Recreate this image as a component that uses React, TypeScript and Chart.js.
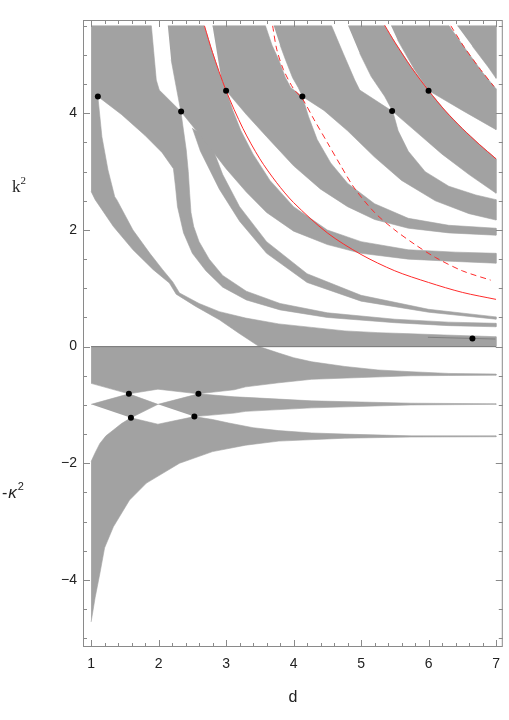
import React, { useEffect, useRef } from 'react';
import { Chart, registerables } from 'chart.js';
Chart.register(...registerables);

type P = [number, number];

const X_TICKS = [1, 2, 3, 4, 5, 6, 7];
const Y_TICKS = [-4, -2, 0, 2, 4];

// ---- negative-energy bands (d, -kappa^2)
const N1: P[] = [[1.0,0],[3.49,0],[3.78,-0.11],[4.0,-0.19],[4.27,-0.26],[4.76,-0.34],[5.25,-0.4],[5.74,-0.43],[6.3,-0.46],[7.0,-0.47],
  [7.0,-0.49],[6.3,-0.495],[5.74,-0.5],[5.0,-0.53],[4.27,-0.56],[3.78,-0.62],[3.29,-0.69],[3.12,-0.74],[2.85,-0.775],[2.59,-0.81],[1.99,-0.73],[1.56,-0.81],[1.0,-0.63]];
const N2a: P[] = [[1.0,-0.99],[1.56,-0.81],[1.99,-0.99],[1.59,-1.22]];
const N2b: P[] = [[1.99,-0.99],[2.59,-0.81],[3.12,-0.86],[3.29,-0.87],[4.27,-0.93],[5.74,-0.97],[7.0,-0.98],
  [7.0,-0.99],[5.74,-1.0],[4.27,-1.05],[3.29,-1.11],[3.12,-1.14],[2.53,-1.2]];
const N3: P[] = [[1.0,-1.97],[1.06,-1.82],[1.13,-1.66],[1.22,-1.53],[1.33,-1.43],[1.45,-1.32],[1.59,-1.22],[1.99,-1.33],[2.53,-1.2],[2.8,-1.25],[3.04,-1.31],[3.4,-1.39],[3.78,-1.44],[4.27,-1.48],[4.76,-1.5],[5.74,-1.53],[7.0,-1.53],
  [7.0,-1.545],[5.74,-1.55],[4.76,-1.57],[3.78,-1.62],[3.29,-1.69],[2.8,-1.8],[2.31,-2.0],[1.82,-2.34],[1.57,-2.63],[1.33,-3.09],[1.2,-3.45],[1.13,-3.89],[1.06,-4.3],[1.0,-4.72]];

// ---- positive-energy bands (d, k^2)
const PG: P[] = [[1.0,5.5],[1.893,5.5],[1.94,4.9],[1.966,4.57],[2.01,4.4],[2.33,4.03],[2.37,3.7],[2.41,3.37],[2.44,3.0],[2.46,2.63],[2.48,2.3],
  [2.52,2.06],[2.6,1.8],[2.75,1.5],[2.95,1.22],[3.3,0.95],[3.8,0.74],[4.5,0.58],[5.5,0.47],[6.3,0.42],[7.0,0.4],
  [7.0,0.34],[6.3,0.36],[5.5,0.41],[4.5,0.5],[3.8,0.63],[3.3,0.8],[2.95,1.02],[2.7,1.3],[2.5,1.6],[2.37,1.95],[2.28,2.4],[2.25,2.75],[2.22,3.05],[2.05,3.33],[1.8,3.62],[1.45,3.98],[1.1,4.29],
  [1.16,3.6],[1.25,3.03],[1.35,2.57],[1.38,2.52],[1.62,2.0],[1.87,1.6],[2.06,1.32],[2.21,1.11],[2.31,0.92],[2.6,0.74],[2.9,0.6],[3.29,0.49],[3.78,0.39],[4.27,0.33],[4.76,0.27],[5.25,0.24],[5.74,0.22],[6.23,0.2],[7.0,0.17],
  [7.0,0],[3.49,0],[3.19,0.23],[2.9,0.46],[2.55,0.69],[2.26,0.9],[2.16,1.09],[1.92,1.32],[1.62,1.66],[1.33,2.06],[1.06,2.52],[1.0,2.66]];
const PG2: P[] = [[2.137,5.5],[2.676,5.5],[2.8,5.04],[2.9,4.69],[3.0,4.39],[3.1,4.05],[3.22,3.7],[3.4,3.3],[3.65,2.85],[4.0,2.4],[4.5,2.0],[5.0,1.8],[5.7,1.66],[6.4,1.62],[7.0,1.6],
  [7.0,1.43],[6.4,1.46],[5.7,1.5],[5.0,1.6],[4.5,1.75],[4.0,1.98],[3.6,2.3],[3.3,2.65],[3.0,3.05],[2.7,3.5],[2.33,4.03],[2.26,4.46],[2.186,4.92]];
const PG3: P[] = [[2.799,5.5],[3.584,5.5],[3.68,5.17],[3.78,4.92],[3.88,4.61],[3.96,4.44],[4.13,4.29],[4.22,3.95],[4.35,3.55],[4.55,3.15],[4.8,2.8],[5.2,2.45],[5.7,2.2],[6.3,2.08],[7.0,2.03],
  [7.0,1.91],[6.3,1.95],[5.7,2.03],[5.2,2.18],[4.8,2.4],[4.4,2.7],[4.0,3.1],[3.6,3.6],[3.3,3.98],[3.0,4.39],[2.93,4.59]];
const PG4: P[] = [[3.706,5.5],[4.563,5.5],[4.735,5.03],[4.907,4.57],[4.98,4.4],[5.47,4.03],[5.55,3.7],[5.7,3.35],[5.95,3.0],[6.3,2.75],[6.7,2.6],[7.0,2.52],
  [7.0,2.17],[6.6,2.28],[6.1,2.5],[5.6,2.85],[5.2,3.25],[4.8,3.7],[4.45,4.05],[4.13,4.29],[4.07,4.44],[3.985,4.61],[3.88,4.92],[3.8,5.17]];
const PG5: P[] = [[4.809,5.5],[5.349,5.5],[5.5,5.22],[5.75,4.78],[6.0,4.39],[6.25,4.04],[6.5,3.74],[6.75,3.47],[7.0,3.22],
  [7.0,2.63],[6.6,2.95],[6.2,3.3],[5.8,3.7],[5.47,4.03],[5.35,4.29],[5.15,4.63],[4.98,5.03]];
const PG6: P[] = [[5.445,5.5],[6.304,5.5],[6.55,5.1],[6.8,4.7],[7.0,4.42],[7.0,3.72],[6.5,4.05],[6.0,4.39],[5.79,4.75],[5.54,5.26]];
const PG7: P[] = [[6.426,5.5],[7.0,5.5],[7.0,4.6],[6.88,4.8],[6.65,5.15]];
const L3: P[] = [[2.75,3.55],[2.95,2.95],[3.2,2.4],[3.6,1.8],[4.2,1.25],[5.0,0.88],[6.0,0.64],[7.0,0.51],
  [7.0,0.47],[6.0,0.59],[5.0,0.78],[4.2,1.1],[3.6,1.6],[3.2,2.15],[2.9,2.7],[2.62,3.35],[2.5,3.75]];

const BANDS: P[][] = [N1, N2a, N2b, N3, PG, PG2, PG3, PG4, PG5, PG6, PG7, L3];

// ---- red curves
const RED1: P[] = [[2.68,5.5],[2.8,5.04],[3.0,4.39],[3.25,3.74],[3.5,3.22],[3.75,2.81],[4.0,2.47],[4.5,1.95],[5.0,1.58],[5.5,1.3],[6.0,1.1],[6.5,0.93],[7.0,0.81]];
const RED2: P[] = [[5.35,5.51],[5.5,5.22],[5.75,4.78],[6.0,4.39],[6.25,4.04],[6.5,3.74],[6.75,3.47],[7.0,3.22]];
const DASH1: P[] = [[3.69,5.5],[3.75,5.1],[3.85,4.75],[4.0,4.42],[4.13,4.25],[4.3,3.9],[4.5,3.5],[4.7,3.1],[4.9,2.72],[5.2,2.3],[5.5,2.0],[5.8,1.75],[6.1,1.53],[6.5,1.3],[6.92,1.14]];
const DASH2: P[] = [[6.33,5.5],[6.52,5.15],[6.77,4.75],[6.97,4.46]];

const ZERO_LINE: P[] = [[1.0,0],[7.0,0]];
const INNER_LINE: P[] = [[5.99,0.16],[6.99,0.13]];

const DOTS: P[] = [[1.1,4.29],[2.334,4.03],[3.0,4.386],[4.13,4.29],[5.46,4.04],[6.0,4.386],[6.65,0.14],
  [1.56,-0.81],[2.59,-0.81],[1.59,-1.22],[2.53,-1.2]];

const GRAY = '#a2a2a2';
const FRAME = '#8a8a8a';
const TEXT = '#222222';

const toXY = (a: P[]) => a.map(([x, y]) => ({ x, y }));

const frameTicks = {
  id: 'frameTicks',
  afterDatasetsDraw(chart: any) {
    const { ctx, chartArea: ca, scales } = chart;
    const xs = scales.x, ys = scales.y;
    ctx.save();
    ctx.strokeStyle = FRAME;
    ctx.lineWidth = 1;
    ctx.strokeRect(ca.left + 0.5, ca.top + 0.5, ca.right - ca.left - 1, ca.bottom - ca.top - 1);
    ctx.beginPath();
    for (let i = 4; i <= 35; i++) {
      const v = i / 5;
      if (v < xs.min || v > xs.max) continue;
      const major = i % 5 === 0;
      const len = major ? 7 : 4;
      const px = Math.round(xs.getPixelForValue(v)) + 0.5;
      ctx.moveTo(px, ca.bottom); ctx.lineTo(px, ca.bottom - len);
      ctx.moveTo(px, ca.top); ctx.lineTo(px, ca.top + len);
    }
    for (let i = -10; i <= 11; i++) {
      const v = i / 2;
      if (v < ys.min || v > ys.max) continue;
      const major = i % 4 === 0;
      const len = major ? 7 : 4;
      const py = Math.round(ys.getPixelForValue(v)) + 0.5;
      ctx.moveTo(ca.left, py); ctx.lineTo(ca.left + len, py);
      ctx.moveTo(ca.right, py); ctx.lineTo(ca.right - len, py);
    }
    ctx.stroke();

    ctx.fillStyle = TEXT;
    ctx.textBaseline = 'alphabetic';
    ctx.textAlign = 'left';
    const yk = ys.getPixelForValue(2.75);
    ctx.font = '17px "Liberation Serif"';
    ctx.fillText('k', 12, yk + 6);
    const kw = ctx.measureText('k').width;
    ctx.font = '11px "Liberation Serif"';
    ctx.fillText('2', 12 + kw, yk - 2);
    const yn = ys.getPixelForValue(-2.5);
    ctx.font = '16px "Liberation Sans"';
    ctx.fillText('-', 2, yn + 6);
    const mw = ctx.measureText('-').width;
    ctx.font = 'italic 17px "Liberation Sans"';
    ctx.fillText('κ', 2 + mw + 1, yn + 6);
    const kpw = ctx.measureText('κ').width;
    ctx.font = '11px "Liberation Sans"';
    ctx.fillText('2', 2 + mw + 1 + kpw + 1, yn - 2);
    ctx.restore();
  },
};

export default function App() {
  const ref = useRef<HTMLCanvasElement | null>(null);
  useEffect(() => {
    const canvas = ref.current;
    if (!canvas) return;
    const bandSets = BANDS.map((b) => ({
      data: toXY(b),
      showLine: true,
      fill: 'shape',
      backgroundColor: GRAY,
      borderColor: GRAY,
      borderWidth: 0.6,
      pointRadius: 0,
      tension: 0,
      order: 5,
    }));
    const lineSet = (pts: P[], color: string, width: number, dash: number[] = []) => ({
      data: toXY(pts),
      showLine: true,
      fill: false,
      borderColor: color,
      borderWidth: width,
      borderDash: dash,
      pointRadius: 0,
      tension: 0.3,
      order: 3,
    });
    const chart = new Chart(canvas, {
      type: 'scatter',
      data: {
        datasets: [
          ...bandSets,
          { ...lineSet(ZERO_LINE, '#7a7a7a', 1), tension: 0 },
          { ...lineSet(INNER_LINE, '#777777', 0.8), tension: 0 },
          lineSet(RED1, '#ff2b2b', 1),
          lineSet(RED2, '#ff2b2b', 1),
          lineSet(DASH1, '#ff2b2b', 1, [6, 4]),
          lineSet(DASH2, '#ff2b2b', 1, [6, 4]),
          {
            data: toXY(DOTS),
            showLine: false,
            pointRadius: 3,
            pointBackgroundColor: '#000',
            pointBorderColor: '#000',
            pointBorderWidth: 0,
            order: 1,
          },
        ] as any,
      },
      options: {
        animation: false,
        responsive: false,
        events: [],
        layout: { padding: { top: 20, right: 3, left: 0, bottom: 0 } },
        plugins: { legend: { display: false }, tooltip: { enabled: false } },
        scales: {
          x: {
            type: 'linear',
            min: 0.88,
            max: 7.1,
            afterBuildTicks: (s: any) => { s.ticks = X_TICKS.map((v) => ({ value: v })); },
            afterFit: (s: any) => { s.height = 73; },
            grid: { display: false, drawTicks: false },
            border: { display: false },
            ticks: { padding: 9, color: TEXT, font: { family: 'Liberation Sans', size: 14 }, maxRotation: 0, autoSkip: false, callback: (v: any) => String(v) },
            title: { display: true, text: 'd', color: TEXT, font: { family: 'Liberation Sans', size: 16 }, padding: { top: 0, bottom: 13 } },
          },
          y: {
            type: 'linear',
            min: -5.15,
            max: 5.6,
            afterBuildTicks: (s: any) => { s.ticks = Y_TICKS.map((v) => ({ value: v })); },
            afterFit: (s: any) => { s.width = 83; },
            grid: { display: false, drawTicks: false },
            border: { display: false },
            ticks: { padding: 6, color: TEXT, font: { family: 'Liberation Sans', size: 14 }, autoSkip: false, callback: (v: any) => (v < 0 ? '−' + Math.abs(v) : String(v)) },
          },
        },
      } as any,
      plugins: [frameTicks],
    });
    return () => chart.destroy();
  }, []);
  return (
    <div style={{ position: 'fixed', left: 0, top: 0, width: 509, height: 720, background: '#fff' }}>
      <canvas ref={ref} width={509} height={720} style={{ width: 509, height: 720 }} />
    </div>
  );
}
